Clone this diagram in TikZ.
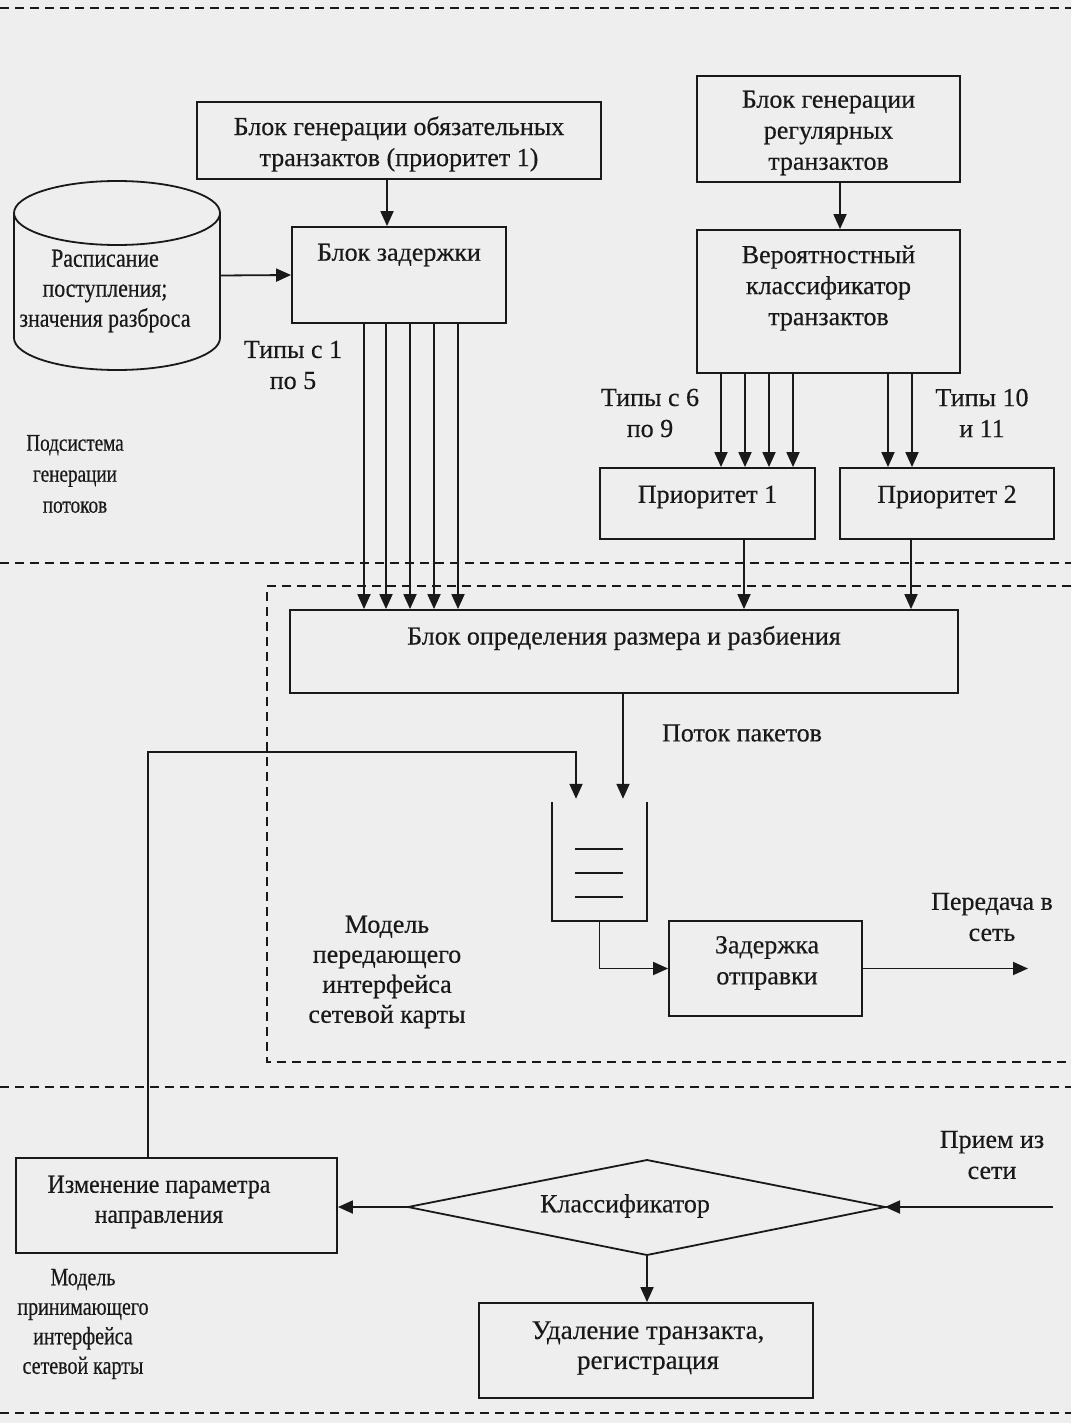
\documentclass[tikz,border=0pt]{standalone}
\usepackage{fontspec}
\setmainfont[FakeBold=0.4]{Liberation Serif}
\newfontfamily\condA[FakeStretch=0.84,FakeBold=0.4]{Liberation Serif}
\newfontfamily\condB[FakeStretch=0.8,FakeBold=0.4]{Liberation Serif}
\newfontfamily\condC[FakeStretch=0.92,FakeBold=0.4]{Liberation Serif}
\usetikzlibrary{arrows.meta}
\definecolor{ink}{RGB}{25,25,25}
\definecolor{paper}{RGB}{238,238,238}
\tikzset{
  ln/.style={draw=ink, line width=1.8pt},
  arr/.style={ln, -{Triangle[length=15pt,width=13pt]}},
  sep/.style={draw=ink, line width=1.5pt, dash pattern=on 9pt off 6pt},
  box/.style={draw=ink, line width=1.8pt, inner sep=0pt},
  ghost/.style={draw=none, inner sep=0pt},
  lbl/.style={align=center, inner sep=0pt, text=ink, font=\fontsize{26}{31}\selectfont},
}
\begin{document}
\begin{tikzpicture}[x=1pt,y=-1pt]
\fill[paper] (0,0) rectangle (1071,1423);
\useasboundingbox (0,0) rectangle (1071,1423);

% separators
\draw[sep] (0,8) -- (1071,8);
\draw[sep] (0,563) -- (1071,563);
\draw[sep] (0,1087) -- (1071,1087);
\draw[sep] (0,1413) -- (1071,1413);
\draw[sep] (1071,586) -- (267,586) -- (267,1062) -- (1071,1062);

% boxes
\node[box, minimum width=404pt, minimum height=77pt] (gen1) at (399,140.5) {};
\node[lbl] (gen1t) at (399,144) {Блок генерации обязательных\\транзактов (приоритет 1)};

\node[box, minimum width=263pt, minimum height=106pt] (genreg) at (828.5,129) {};
\node[lbl] (genregt) at (828.5,133) {Блок генерации\\регулярных\\транзактов};

\node[box, minimum width=214pt, minimum height=96pt] (zad) at (399,275) {};
\node[lbl] (zadt) at (399,255) {Блок задержки};

\node[box, minimum width=263pt, minimum height=143pt] (ver) at (828.5,301.5) {};
\node[lbl] (vert) at (828.5,288) {Вероятностный\\классификатор\\транзактов};

\node[box, minimum width=215pt, minimum height=71pt] (pr1) at (707.5,503.5) {};
\node[lbl] (pr1t) at (707.5,497) {Приоритет 1};
\node[box, minimum width=214pt, minimum height=71pt] (pr2) at (947,503.5) {};
\node[lbl] (pr2t) at (947,497) {Приоритет 2};

\node[box, minimum width=668pt, minimum height=83pt] (razb) at (624,651.5) {};
\node[lbl] (razbt) at (624,638) {Блок определения размера и разбиения};

\node[box, minimum width=193pt, minimum height=95pt] (zotp) at (765.5,968.5) {};
\node[lbl] (zotpt) at (767,963) {Задержка\\отправки};

\node[box, minimum width=321pt, minimum height=95pt] (izm) at (176.5,1205.5) {};
\node[lbl, font=\condC\fontsize{26}{30}\selectfont] (izmt) at (159,1202) {Изменение параметра\\направления};

\node[box, minimum width=334pt, minimum height=95pt] (udal) at (646,1350.5) {};
\node[lbl, font=\fontsize{27}{30}\selectfont] (udalt) at (648,1348) {Удаление транзакта,\\регистрация};

% cylinder
\node[ghost, minimum width=206pt, minimum height=189pt] (cyl) at (117,275.5) {};
\draw[ln] (14,213) -- (14,338) arc[start angle=180,end angle=360,x radius=103pt,y radius=32pt] -- (220,213);
\draw[ln] (117,213) ellipse [x radius=103pt, y radius=32pt];
\node[lbl, font=\condA\fontsize{26}{30}\selectfont] (cylt) at (105,291) {Расписание\\поступления;\\значения разброса};

% queue
\node[ghost, minimum width=95pt, minimum height=119pt] (queue) at (599.5,861.5) {};
\draw[ln] (queue.north west) -- (queue.south west) -- (queue.south east) -- (queue.north east);
\coordinate (q1) at (575,849); \coordinate (q1e) at (623,849);
\coordinate (q2) at (575,873); \coordinate (q2e) at (623,873);
\coordinate (q3) at (575,897); \coordinate (q3e) at (623,897);
\draw[ln] (q1) -- (q1e); \draw[ln] (q2) -- (q2e); \draw[ln] (q3) -- (q3e);

% diamond
\coordinate (dl) at (408,1207);
\coordinate (dt) at (647,1160);
\coordinate (dr) at (885,1207);
\coordinate (db) at (647,1255);
\draw[ln] (dl) -- (dt) -- (dr) -- (db) -- cycle;
\node[lbl] (cls) at (625,1206) {Классификатор};

% free labels
\node[lbl] (t15) at (293,365) {Типы с 1\\по 5};
\node[lbl] (t69) at (650,413) {Типы с 6\\по 9};
\node[lbl] (t1011) at (982,413) {Типы 10\\и 11};
\node[lbl, font=\condB\fontsize{24}{31}\selectfont] (podsys) at (75,474) {Подсистема\\генерации\\потоков};
\node[lbl] (potok) at (742,733) {Поток пакетов};
\node[lbl] (pered) at (992,917) {Передача в\\сеть};
\node[lbl, font=\fontsize{26}{30}\selectfont] (mperd) at (387,972) {Модель\\передающего\\интерфейса\\сетевой карты};
\node[lbl] (priem) at (992,1155) {Прием из\\сети};
\node[lbl, font=\condB\fontsize{25}{29.5}\selectfont] (mprin) at (83,1324) {Модель\\принимающего\\интерфейса\\сетевой карты};

% connectors
\draw[arr] ([xshift=-12pt]gen1.south) -- ([xshift=-12pt]zad.north);
\draw[arr] ([xshift=11.5pt]genreg.south) -- ([xshift=11.5pt]ver.north);
\draw[arr] (cyl.east) -- (zad.west);

\foreach \i/\xx in {1/364,2/386,3/410,4/434,5/458}{
  \coordinate (k\i) at (\xx,0);
  \draw[arr] (zad.south -| k\i) -- (razb.north -| k\i);
}
\foreach \i/\xx in {1/721,2/745,3/769,4/793}{
  \coordinate (v\i) at (\xx,0);
  \draw[arr] (ver.south -| v\i) -- (pr1.north -| v\i);
}
\foreach \i/\xx in {1/888,2/912}{
  \coordinate (w\i) at (\xx,0);
  \draw[arr] (ver.south -| w\i) -- (pr2.north -| w\i);
}
\coordinate (p1x) at (744,0);
\coordinate (p2x) at (911,0);
\draw[arr] (pr1.south -| p1x) -- (razb.north -| p1x);
\draw[arr] (pr2.south -| p2x) -- (razb.north -| p2x);

\coordinate (rq) at (623,0);
\draw[arr] (razb.south -| rq) -- ([yshift=3pt]queue.north -| rq);

\coordinate (lt) at (148,752);
\coordinate (qa) at (576,0);
\draw[arr] (izm.north -| lt) -- (lt) -| ([yshift=3pt]queue.north -| qa);

\draw[arr] (queue.south) |- (zotp.west);
\coordinate (out) at (1028,968.5);
\draw[arr] (zotp.east) -- (out);

\coordinate (inp) at (1053,1207);
\draw[arr] (inp) -- (dr);
\draw[arr] (dl) -- (izm.east |- dl);
\draw[arr] (db) -- (udal.north -| db);
\end{tikzpicture}
\end{document}
